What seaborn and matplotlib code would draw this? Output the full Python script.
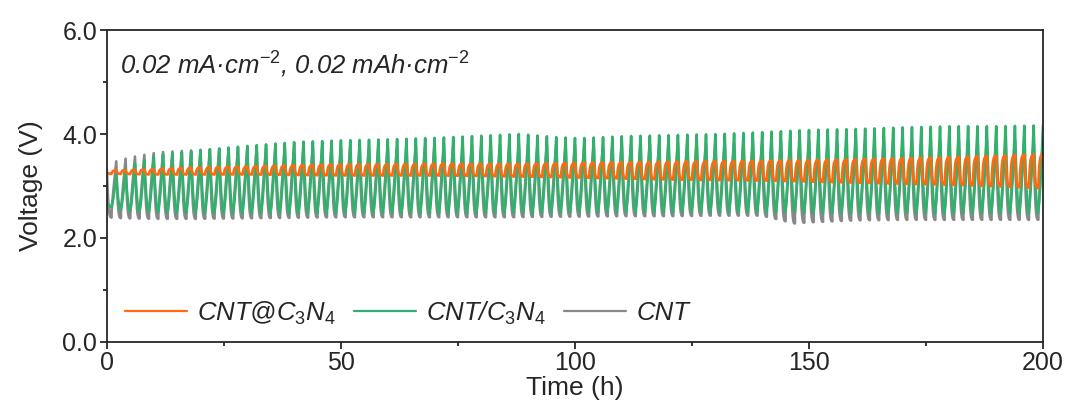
import numpy as np
import pandas as pd
import matplotlib
matplotlib.use("Agg")
import matplotlib.pyplot as plt
import seaborn as sns
from matplotlib.ticker import MultipleLocator, FormatStrFormatter

# ---------------- data ----------------
series_names = ["CNT@C$_3$N$_4$", "CNT/C$_3$N$_4$", "CNT"]
n_cycles = 100          # 1 h discharge + 1 h charge per cycle, 200 h total
cycle_hours = 2.0

# envelope knots: time (h) -> upper / lower voltage of each cycle
env_t = [0, 4, 10, 20, 30, 40, 50, 60, 70, 80, 87, 95, 100, 110, 120, 130, 140, 147, 150, 160, 170, 180, 190, 200]

orange_peak = [3.30, 3.31, 3.33, 3.36, 3.38, 3.40, 3.42, 3.42, 3.43, 3.43, 3.43, 3.44, 3.45, 3.46, 3.47, 3.48, 3.49, 3.50, 3.50, 3.52, 3.54, 3.56, 3.59, 3.62]
orange_low  = [3.24, 3.23, 3.22, 3.22, 3.22, 3.21, 3.20, 3.20, 3.20, 3.19, 3.18, 3.17, 3.16, 3.14, 3.12, 3.11, 3.10, 3.09, 3.08, 3.06, 3.04, 3.02, 2.99, 2.95]

green_peak = [3.15, 3.40, 3.60, 3.70, 3.78, 3.85, 3.88, 3.90, 3.93, 3.97, 4.00, 3.94, 3.92, 3.96, 3.98, 4.00, 4.04, 4.07, 4.08, 4.10, 4.13, 4.15, 4.15, 4.17]
green_low  = [2.62, 2.52, 2.50, 2.48, 2.48, 2.48, 2.48, 2.48, 2.48, 2.48, 2.49, 2.49, 2.49, 2.50, 2.50, 2.50, 2.50, 2.50, 2.48, 2.48, 2.48, 2.48, 2.48, 2.48]

grey_peak = [3.45, 3.55, 3.65, 3.70, 3.72, 3.74, 3.75, 3.77, 3.78, 3.79, 3.80, 3.80, 3.80, 3.81, 3.82, 3.83, 3.84, 3.85, 3.85, 3.86, 3.86, 3.87, 3.88, 3.88]
grey_low  = [2.40, 2.38, 2.37, 2.37, 2.38, 2.39, 2.40, 2.40, 2.40, 2.40, 2.40, 2.41, 2.41, 2.42, 2.42, 2.43, 2.43, 2.28, 2.30, 2.34, 2.35, 2.35, 2.35, 2.35]

start_v = [3.25, 2.72, 3.30]   # voltage at t = 0 for orange, green, grey

colors = ["#FF6A0E", "#33B06E", "#888888"]


# ---------------- build the galvanostatic traces ----------------
def trace(peaks, lows, v0, kind):
    ts, vs = [], []
    s = np.linspace(0, 1, 30)
    prev = v0
    for k in range(n_cycles):
        tc = k * cycle_hours + 1.0
        hi = np.interp(tc, env_t, peaks)
        lo = np.interp(tc, env_t, lows)
        amp = hi - lo
        if kind == "orange":
            dis = lo + (prev - lo) * np.exp(-s / 0.2)
            cha = lo + amp * (1 - 0.95 * np.exp(-s / 0.2))
        elif kind == "green":
            dis = lo + (prev - lo) * (1 - s) ** 2.2
            cha = lo + amp * (0.04 + 0.96 * s ** 1.4)
        else:  # CNT: faster polarisation, its strokes sit slightly ahead of green
            dis = lo + (prev - lo) * (1 - s) ** 3.2
            cha = lo + amp * (0.10 + 0.90 * s ** 0.9)
        t0 = k * cycle_hours
        ts.extend(t0 + s); vs.extend(dis)
        ts.extend(t0 + 1 + s); vs.extend(cha)
        prev = cha[-1]
    return np.array(ts), np.array(vs)


frames = []
params = [(orange_peak, orange_low, "orange"), (green_peak, green_low, "green"), (grey_peak, grey_low, "grey")]
for name, v0, (pk, lw, kind) in zip(series_names, start_v, params):
    t, v = trace(pk, lw, v0, kind)
    frames.append(pd.DataFrame({"Time": t, "Voltage": v, "Sample": name}))
df = pd.concat(frames, ignore_index=True)

# ---------------- plotting ----------------
sns.set_style("ticks")
plt.rcParams["font.family"] = ["Liberation Sans", "DejaVu Sans"]
plt.rcParams["mathtext.fontset"] = "custom"
plt.rcParams["mathtext.it"] = "Liberation Sans:italic"
plt.rcParams["mathtext.rm"] = "Liberation Sans"
plt.rcParams["mathtext.default"] = "it"

fig = plt.figure(figsize=(10.69, 4.12), dpi=100)
ax = fig.add_axes([0.100, 0.170, 0.8757, 0.757])

palette = dict(zip(series_names, colors))
for name in [series_names[2], series_names[1], series_names[0]]:
    sub = df[df["Sample"] == name]
    sns.lineplot(data=sub, x="Time", y="Voltage", color=palette[name], lw=1.9,
                 estimator=None, sort=False, ax=ax, label=name)

ax.set_xlim(0, 200)
ax.set_ylim(0, 6)
ax.xaxis.set_major_locator(MultipleLocator(50))
ax.xaxis.set_minor_locator(MultipleLocator(25))
ax.yaxis.set_major_locator(MultipleLocator(2))
ax.yaxis.set_minor_locator(MultipleLocator(1))
ax.yaxis.set_major_formatter(FormatStrFormatter("%.1f"))
ax.tick_params(axis="both", which="major", direction="out", length=5, width=1.3, labelsize=18, pad=2)
ax.tick_params(axis="x", which="major", pad=1.5)
ax.tick_params(axis="both", which="minor", direction="out", length=3, width=1.3)
for sp in ax.spines.values():
    sp.set_linewidth(1.3)
    sp.set_visible(True)

ax.set_xlabel("Time (h)", fontsize=19, labelpad=1)
ax.set_ylabel("Voltage (V)", fontsize=19, labelpad=14)

ax.text(0.014, 0.888, "0.02 mA\u00b7cm$^{-2}$, 0.02 mAh\u00b7cm$^{-2}$",
        transform=ax.transAxes, fontsize=18.5, style="italic", va="center", ha="left")

handles, labels = ax.get_legend_handles_labels()
order = [labels.index(n) for n in series_names]
leg = ax.legend([handles[i] for i in order], series_names,
                loc="center left", bbox_to_anchor=(-0.005, 0.093), ncol=3, frameon=False,
                prop={"size": 18.5, "style": "italic"}, handlelength=2.4, columnspacing=0.7,
                handletextpad=0.4)
for lh in leg.get_lines():
    lh.set_linewidth(1.6)

fig.savefig("out.png", dpi=100)
